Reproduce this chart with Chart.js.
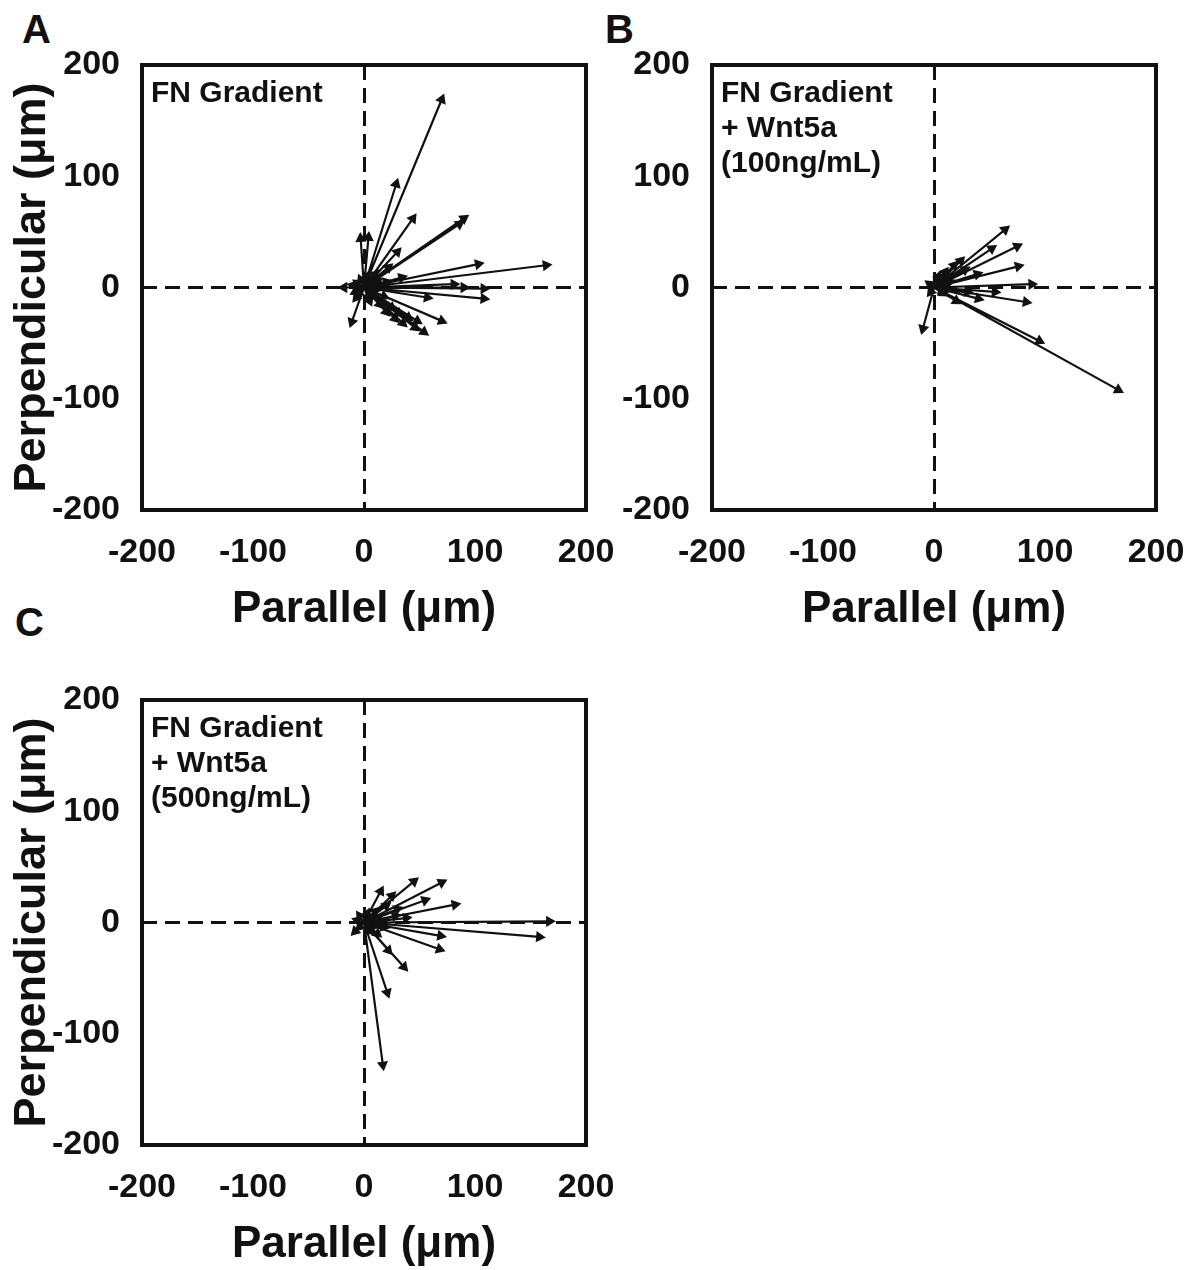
<!DOCTYPE html>
<html>
<head>
<meta charset="utf-8">
<title>Cell displacement vectors</title>
<script src="https://cdn.jsdelivr.net/npm/chart.js@4.4.1/dist/chart.umd.min.js"></script>
<style>
  html, body { margin: 0; background: #fff; overflow: hidden; }
  body { width: 1193px; height: 1270px; position: relative; }
  .panel { position: absolute; width: 640px; height: 660px; }
  .tag { position: absolute; font: bold 40px "Liberation Sans", Arial, sans-serif; line-height: 1; color: #111; }
</style>
</head>
<body>
<div class="tag" style="left:22px;top:9px">A</div>
<div class="tag" style="left:605px;top:9px">B</div>
<div class="tag" style="left:15px;top:602px">C</div>
<div class="panel" style="left:0;top:0"><canvas id="chartA"></canvas></div>
<div class="panel" style="left:570px;top:0"><canvas id="chartB"></canvas></div>
<div class="panel" style="left:0;top:635px"><canvas id="chartC"></canvas></div>
<script>
// end points of each cell track (um), every track starts at the origin
const fnParallel = [70, 29, 44, 90, 86, 103, 164, 30, -3, 4, 81, 90, 108, 108, 57, 70, 54, 46, 40, 31, -11, -18, 34, 22, 12, 8, -6, 15, 10, -8, 5, 18, 20, 14, -10, 25,
  6, -5, 9, 3, -7, 11, 4, -3, 28, 35, 20, 48];
const fnPerpendicular = [169, 93, 62, 62, 57, 21, 20, 32, 44, 45, 3, 0, -1, -10, -9, -30, -40, -36, -27, -23, -31, 0, 9, 18, 6, -6, 4, 2, 12, -4, -12, -8, 5, -15, 2, -18,
  8, -5, -2, 10, -9, 4, -8, 7, -28, -32, -22, -30];

const wnt100Parallel = [64, 75, 52, 76, 39, 88, 83, 40, 95, 166, -10, 24, 18, 10, 14, 30, 20, 5, 55, 8, -4, 12, 28,
  6, -3, 9, 4, 12, 7];
const wnt100Perpendicular = [52, 37, 35, 19, 12, 3, -13, -10, -48, -92, -37, 24, 20, 14, 5, -4, -12, 8, -4, -5, 3, -2, 16,
  6, -4, 2, 10, 8, -3];

const wnt500Parallel = [45, 70, 15, 25, 55, 82, 167, 158, 69, 68, 36, 22, 21, 17, 38, -8, 10, 30, 5, 12, 8, -4, 18, 28, 20,
  6, -4, 9, 3, 11, -6, 7];
const wnt500Perpendicular = [37, 36, 28, 24, 20, 16, 1, -13, -12, -24, -40, -25, -63, -128, 4, -8, 10, 12, -5, -10, 4, 6, -4, 6, 15,
  5, -4, -3, 8, 3, 2, -8];

const tickValues = [-200, -100, 0, 100, 200];
const insetA = ['FN Gradient'];
const insetB = ['FN Gradient', '+ Wnt5a', '(100ng/mL)'];
const insetC = ['FN Gradient', '+ Wnt5a', '(500ng/mL)'];

const ink = '#111';
const family = '"Liberation Sans", Arial, sans-serif';

// box around the plot plus the condition label in the upper left
const framePlugin = {
  id: 'frame',
  afterDatasetsDraw(chart, args, opts) {
    const { ctx, chartArea: a } = chart;
    ctx.save();
    ctx.strokeStyle = ink;
    ctx.lineWidth = 4;
    ctx.strokeRect(a.left, a.top, a.right - a.left, a.bottom - a.top);
    ctx.fillStyle = ink;
    ctx.font = 'bold 30px ' + family;
    ctx.textBaseline = 'alphabetic';
    (opts.lines || []).forEach((t, i) => ctx.fillText(t, a.left + 9, a.top + 37 + i * 35));
    ctx.restore();
  }
};

function axis(title, isY) {
  return {
    type: 'linear',
    min: -200,
    max: 200,
    afterBuildTicks: s => { s.ticks = tickValues.map(v => ({ value: v })); },
    afterFit: s => { if (isY) s.width = 142; else s.height = 150; },
    grid: {
      drawTicks: false,
      lineWidth: 3,
      color: c => (c.tick && c.tick.value === 0) ? ink : 'rgba(0,0,0,0)'
    },
    border: { display: false, dash: [15, 8] },
    ticks: {
      color: ink,
      font: { family: family, size: 34, weight: 'bold' },
      padding: 22,
      maxRotation: 0,
      autoSkip: false
    },
    title: {
      display: !!title,
      text: title,
      color: ink,
      font: { family: family, size: isY ? 45 : 44, weight: 'bold' },
      padding: isY ? 6 : 24
    }
  };
}

function makeChart(id, xs, ys, inset, yTitle) {
  const tips = xs.map((x, i) => ({ x: x, y: ys[i] }));
  const shafts = [];
  tips.forEach(p => { shafts.push({ x: 0, y: 0 }, p, { x: null, y: null }); });
  const angles = tips.map(p => Math.atan2(p.x, p.y) * 180 / Math.PI);

  return new Chart(document.getElementById(id), {
    type: 'scatter',
    data: {
      datasets: [{
        data: tips,
        pointStyle: 'triangle',
        pointRadius: 6.5,
        pointRotation: angles,
        pointBackgroundColor: ink,
        pointBorderWidth: 0
      }, {
        data: shafts,
        showLine: true,
        spanGaps: false,
        borderColor: ink,
        borderWidth: 2.2,
        pointRadius: 0
      }]
    },
    options: {
      responsive: true,
      maintainAspectRatio: false,
      animation: false,
      events: [],
      layout: { padding: { top: 65, right: 54, left: 0, bottom: 0 } },
      scales: {
        x: axis('Parallel (\u03bcm)', false),
        y: axis(yTitle, true)
      },
      plugins: {
        legend: { display: false },
        tooltip: { enabled: false },
        frame: { lines: inset }
      }
    },
    plugins: [framePlugin]
  });
}

makeChart('chartA', fnParallel, fnPerpendicular, insetA, 'Perpendicular (\u03bcm)');
makeChart('chartB', wnt100Parallel, wnt100Perpendicular, insetB, '');
makeChart('chartC', wnt500Parallel, wnt500Perpendicular, insetC, 'Perpendicular (\u03bcm)');
</script>
</body>
</html>
